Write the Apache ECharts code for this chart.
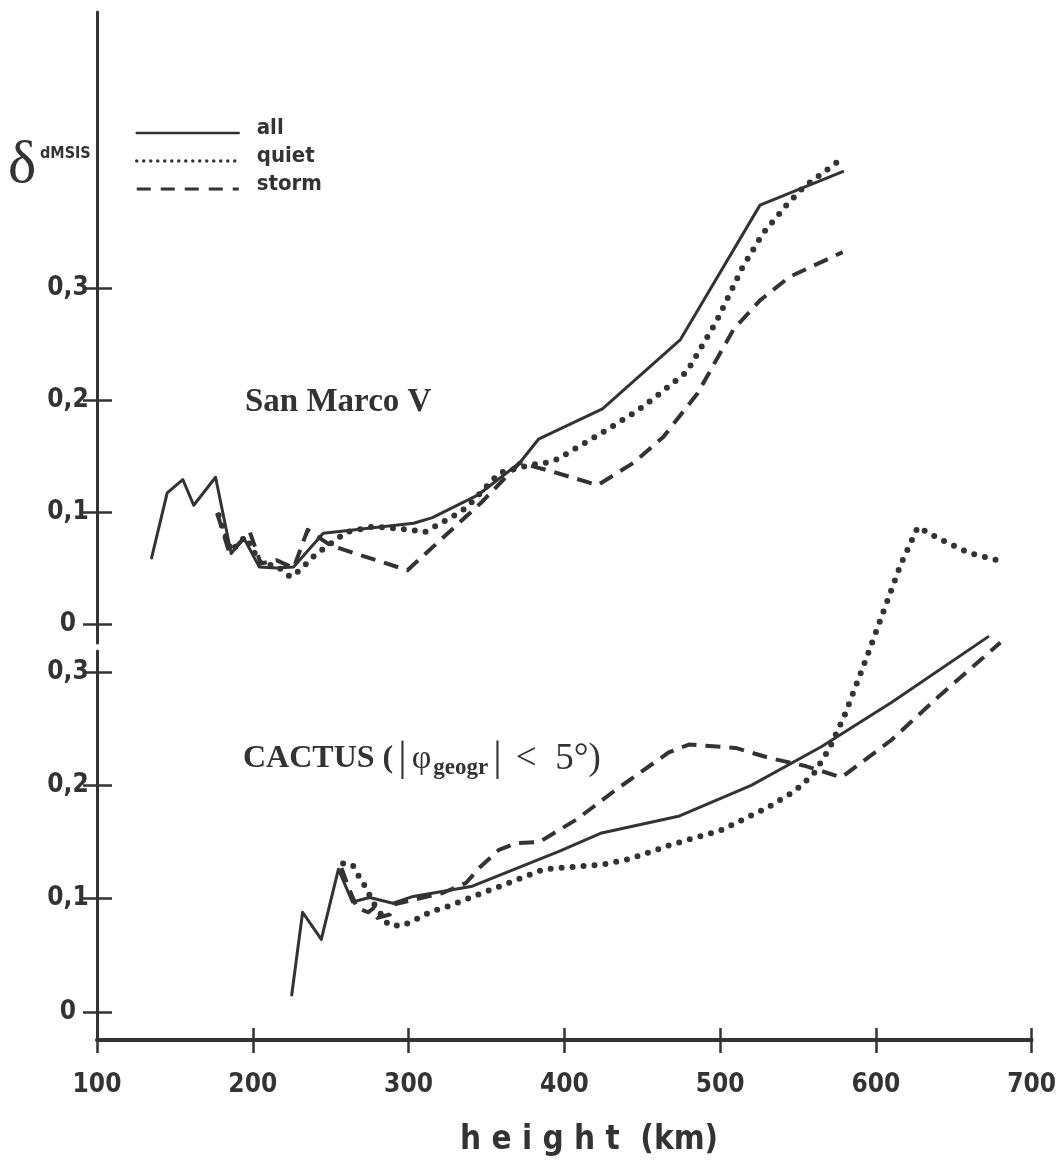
<!DOCTYPE html>
<html>
<head>
<meta charset="utf-8">
<script src="https://cdn.jsdelivr.net/npm/echarts@6/dist/echarts.min.js"></script>
<style>
  html, body { margin: 0; padding: 0; background: #fff; }
  #chart { width: 1059px; height: 1164px; }
</style>
</head>
<body>
<div id="chart"></div>
<script>
// Height axis (km)
const heightTicks = [100, 200, 300, 400, 500, 600, 700];
// δ tick values shown on each panel
const deltaTicks = [0, 0.1, 0.2, 0.3];

// San Marco V — [height km, δ]
const sanMarcoAll = [
  [135, 0.059], [145, 0.117], [155, 0.129], [162, 0.106], [176, 0.131],
  [186, 0.063], [194, 0.077], [204, 0.051], [215, 0.050], [226, 0.051],
  [245, 0.081], [303, 0.090], [315, 0.095], [344, 0.115], [371, 0.144],
  [383, 0.165], [424, 0.192], [474, 0.254], [525, 0.374], [578, 0.404]
];
const sanMarcoQuiet = [
  [178, 0.097], [186, 0.065], [195, 0.078], [205, 0.054], [215, 0.052],
  [224, 0.042], [230, 0.048], [240, 0.062], [247, 0.069], [260, 0.082],
  [277, 0.087], [302, 0.084], [310, 0.082], [328, 0.096], [337, 0.104],
  [358, 0.135], [378, 0.142], [388, 0.144], [395, 0.147], [424, 0.171],
  [446, 0.190], [461, 0.206], [478, 0.225], [497, 0.270], [514, 0.319],
  [527, 0.349], [542, 0.374], [553, 0.390], [578, 0.416]
];
const sanMarcoStorm = [
  [177, 0.099], [185, 0.063], [198, 0.082], [205, 0.054], [215, 0.057],
  [226, 0.050], [235, 0.084], [250, 0.070], [299, 0.048], [346, 0.108],
  [371, 0.144], [392, 0.136], [421, 0.124], [444, 0.144], [463, 0.167],
  [485, 0.206], [508, 0.263], [525, 0.289], [544, 0.310], [578, 0.332]
];

// CACTUS (|φ_geogr| < 5°) — [height km, δ]
const cactusAll = [
  [225, 0.015], [232, 0.088], [244, 0.064], [255, 0.126], [264, 0.097],
  [275, 0.101], [290, 0.096], [303, 0.102], [341, 0.111], [397, 0.142],
  [424, 0.158], [474, 0.173], [520, 0.200], [565, 0.234], [610, 0.273],
  [672, 0.331]
];
const cactusQuiet = [
  [258, 0.131], [264, 0.130], [268, 0.120], [272, 0.111], [278, 0.095],
  [287, 0.077], [296, 0.076], [302, 0.080], [308, 0.084], [315, 0.089],
  [323, 0.092], [387, 0.126], [405, 0.128], [424, 0.130], [442, 0.135],
  [459, 0.143], [467, 0.147], [500, 0.160], [530, 0.180], [548, 0.195],
  [560, 0.210], [570, 0.232], [580, 0.262], [592, 0.305], [604, 0.350],
  [616, 0.395], [627, 0.428], [640, 0.418], [660, 0.405], [683, 0.397]
];
const cactusStorm = [
  [257, 0.127], [262, 0.108], [267, 0.092], [274, 0.088], [278, 0.092],
  [280, 0.083], [288, 0.086], [291, 0.095], [303, 0.099], [322, 0.105],
  [337, 0.114], [346, 0.128], [358, 0.143], [369, 0.149], [384, 0.150],
  [408, 0.170], [433, 0.196], [467, 0.229], [480, 0.236], [510, 0.233],
  [532, 0.224], [555, 0.217], [578, 0.207], [610, 0.240], [640, 0.278],
  [680, 0.326]
];

const INK = '#333333';
const NARROW = '"Liberation Sans Narrow", "DejaVu Sans Condensed", "Roboto", sans-serif';
const SERIF = '"Liberation Serif", "DejaVu Serif", serif';

const styles = {
  all:   { color: INK, width: 3, type: 'solid', cap: 'round', join: 'round' },
  quiet: { color: INK, width: 6, type: [0, 11], cap: 'round', join: 'round' },
  storm: { color: INK, width: 4, type: [15, 9], cap: 'butt', join: 'round' }
};

const fmt = v => (v === 0 ? '0' : v.toFixed(1).replace('.', ','));

// Top panel: 0.1 per 112 px; bottom panel: 0.1 per 113.3 px
const topRange = { min: -0.01696, max: 0.54643 };
const botRange = { min: -0.024706, max: 0.31853 };

// Ticks cross the axis line: one axis draws the outer half, a twin draws the inner half
function yAxes(gridIndex, range) {
  return [
    {
      type: 'value', gridIndex, position: 'left', min: range.min, max: range.max,
      splitLine: { show: false },
      axisLine: { show: true, onZero: false, lineStyle: { color: INK, width: 3 } },
      axisTick: { show: true, inside: false, length: 14, customValues: deltaTicks,
                  lineStyle: { color: INK, width: 2.5 } },
      axisLabel: { show: true, customValues: deltaTicks, formatter: fmt, margin: 29,
                   align: 'center', color: INK, fontFamily: NARROW, fontWeight: 'bold', fontSize: 26 }
    },
    {
      type: 'value', gridIndex, position: 'left', offset: 0, min: range.min, max: range.max,
      splitLine: { show: false },
      axisLine: { show: false, onZero: false },
      axisTick: { show: true, inside: true, length: 15, customValues: deltaTicks,
                  lineStyle: { color: INK, width: 2.5 } },
      axisLabel: { show: false }
    }
  ];
}

function line(name, data, xAxisIndex, yAxisIndex) {
  return {
    type: 'line', name, data, xAxisIndex, yAxisIndex,
    symbol: 'none', showSymbol: false, clip: false,
    itemStyle: { color: INK },
    lineStyle: styles[name], emphasis: { disabled: true }
  };
}

const chart = echarts.init(document.getElementById('chart'), null, { renderer: 'canvas' });

chart.setOption({
  animation: false,
  backgroundColor: '#ffffff',
  grid: [
    { left: 97, top: 12, width: 936, height: 631 },
    { left: 97, top: 651, width: 936, height: 389 }
  ],
  xAxis: [
    { type: 'value', gridIndex: 0, min: 100, max: 700, show: false },
    {
      type: 'value', gridIndex: 1, position: 'bottom', min: 100, max: 700, interval: 100,
      splitLine: { show: false },
      axisLine: { show: true, onZero: false, lineStyle: { color: INK, width: 4 } },
      axisTick: { show: true, inside: false, length: 13, customValues: heightTicks,
                  lineStyle: { color: INK, width: 2.5 } },
      axisLabel: { show: true, margin: 32, color: INK, fontFamily: NARROW, fontWeight: 'bold', fontSize: 26,
                   customValues: heightTicks }
    },
    {
      type: 'value', gridIndex: 1, position: 'bottom', offset: 0, min: 100, max: 700, interval: 100,
      splitLine: { show: false }, axisLine: { show: false, onZero: false }, axisLabel: { show: false },
      axisTick: { show: true, inside: true, length: 12, customValues: heightTicks,
                  lineStyle: { color: INK, width: 2.5 } }
    }
  ],
  yAxis: [...yAxes(0, topRange), ...yAxes(1, botRange)],
  legend: {
    orient: 'vertical', left: 135, top: 117, padding: 0,
    itemWidth: 102, itemHeight: 24, itemGap: -4,
    selectedMode: false,
    itemStyle: { opacity: 0 },
    data: [
      { name: 'all',   lineStyle: { width: 2.5, type: 'solid' } },
      { name: 'quiet', lineStyle: { width: 3.5, type: [0, 7], cap: 'round' } },
      { name: 'storm', lineStyle: { width: 3, type: [14, 10] } }
    ],
    formatter: name => '{t|' + name + '}',
    textStyle: {
      color: INK,
      rich: {
        t: { fontFamily: NARROW, fontWeight: 'bold', fontSize: 22, color: INK,
             lineHeight: 14, padding: [0, 0, 10, 13] }
      }
    }
  },
  graphic: [
    { type: 'text', left: 8, top: 136,
      style: { text: 'δ', fill: INK, font: '60px ' + SERIF } },
    { type: 'text', left: 40, top: 146,
      style: { text: 'dMSIS', fill: INK, font: 'bold 16px ' + NARROW } },
    { type: 'text', left: 245, top: 386,
      style: { text: 'San Marco V', fill: INK, font: 'bold 33px ' + SERIF } },
    { type: 'text', left: 243, top: 738,
      style: {
        text: '{a|CACTUS (}{b||}{p|φ}{s|geogr}{b||}{r| <  5°)}',
        fill: INK,
        rich: {
          a: { fontFamily: SERIF, fontWeight: 'bold', fontSize: 32, color: INK },
          b: { fontFamily: SERIF, fontSize: 42, color: INK, padding: [0, 5, 0, 5] },
          p: { fontFamily: SERIF, fontSize: 34, color: INK },
          s: { fontFamily: SERIF, fontWeight: 'bold', fontSize: 23, color: INK,
               verticalAlign: 'bottom', padding: [14, 0, 0, 2] },
          r: { fontFamily: SERIF, fontSize: 37, color: INK }
        }
      } },
    { type: 'text', left: 460, top: 1124,
      style: { text: 'h e i g h t  (km)', fill: INK, font: 'bold 33px ' + NARROW } }
  ],
  series: [
    line('all', sanMarcoAll, 0, 0),
    line('quiet', sanMarcoQuiet, 0, 0),
    line('storm', sanMarcoStorm, 0, 0),
    line('all', cactusAll, 1, 2),
    line('quiet', cactusQuiet, 1, 2),
    line('storm', cactusStorm, 1, 2)
  ]
});
</script>
</body>
</html>
